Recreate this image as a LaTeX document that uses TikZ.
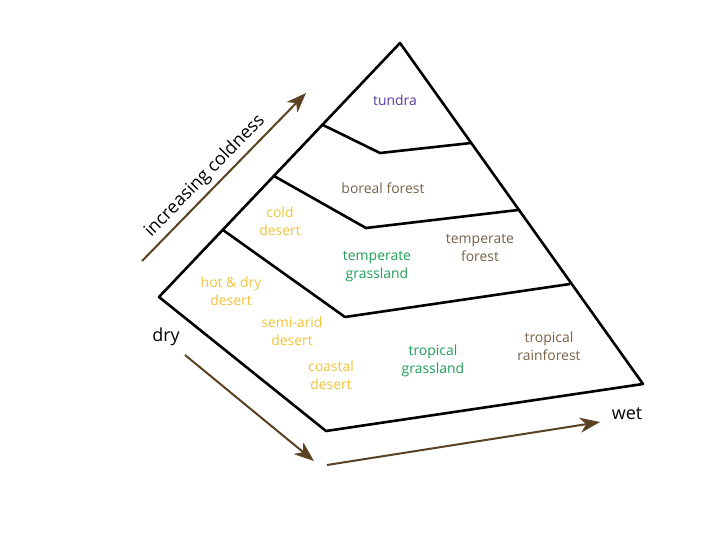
\documentclass[tikz,border=0pt]{standalone}
\usepackage{fontspec}
\setmainfont{Open Sans}
\usetikzlibrary{arrows.meta}
\definecolor{tundracol}{HTML}{5B3A9E}
\definecolor{desertcol}{HTML}{EFC43A}
\definecolor{grasscol}{HTML}{1F9E58}
\definecolor{forestcol}{HTML}{7A6148}
\definecolor{arrowcol}{HTML}{5A4222}
\tikzset{
    biome/.style={align=center, font=\fontsize{14}{18}\selectfont, inner sep=0pt},
    axislabel/.style={font=\fontsize{18}{21}\selectfont, inner sep=0pt},
    trend/.style={draw=arrowcol, line width=2bp, -{Stealth[length=20bp, width=15bp, inset=6bp]}},
    zone/.style={line width=2.6bp, line join=round}
}
\begin{document}
\begin{tikzpicture}[x=1bp, y=-1bp]
    \useasboundingbox[fill=white] (0,0) rectangle (720,540);

    % Pyramid outline
    \draw[zone] (400,43) -- (643,384) -- (326,431) -- (159,297) -- cycle;

    % Zone boundaries
    \draw[zone] (323,125) -- (380,153) -- (471,143);
    \draw[zone] (274,176) -- (366,228) -- (518,210);
    \draw[zone] (223,230) -- (345,317) -- (570,284);

    % Axis arrows
    \coordinate (cold0) at (142,261);
    \coordinate (cold1) at (306,93);
    \coordinate (dry0) at (185,355);
    \coordinate (dry1) at (314,461);
    \coordinate (wet0) at (327,465);
    \coordinate (wet1) at (600,422);
    \draw[trend] (cold0) -- (cold1);
    \draw[trend] (dry0) -- (dry1);
    \draw[trend] (wet0) -- (wet1);

    \node[axislabel, rotate=45.5] (coldness) at (205,176) {increasing coldness};
    \node[axislabel] (dry) at (166,337) {dry};
    \node[axislabel] (wet) at (627,414) {wet};

    % Biomes
    \node[biome, text=tundracol] (tundra) at (395,100) {tundra};
    \node[biome, text=forestcol] (boreal) at (383,188) {boreal forest};
    \node[biome, text=desertcol] (colddes) at (280,221) {cold\\desert};
    \node[biome, text=forestcol] (tempfor) at (480,248) {temperate\\forest};
    \node[biome, text=grasscol] (tempgrass) at (377,267) {temperate\\grassland};
    \node[biome, text=desertcol] (hotdes) at (231,291) {hot \& dry\\desert};
    \node[biome, text=desertcol] (semiarid) at (292,331) {semi-arid\\desert};
    \node[biome, text=desertcol] (coastal) at (331,375) {coastal\\desert};
    \node[biome, text=grasscol] (tropgrass) at (433,361) {tropical\\grassland};
    \node[biome, text=forestcol] (rainforest) at (549,346) {tropical\\rainforest};
\end{tikzpicture}
\end{document}
